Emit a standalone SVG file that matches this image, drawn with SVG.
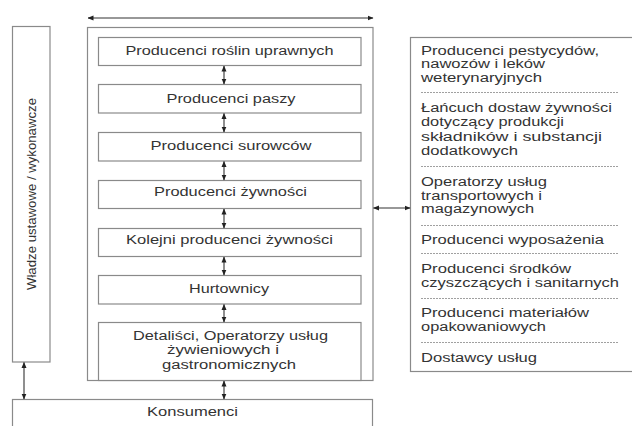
<svg xmlns="http://www.w3.org/2000/svg" width="632" height="426" viewBox="0 0 632 426">
<style>
.box{fill:#fff;stroke:#8a8a8a;stroke-width:1.2}
.t{font-family:"Liberation Sans",Arial,sans-serif;font-size:12.5px;fill:#333}
.c{text-anchor:middle}
.ln{stroke:#333;stroke-width:1.1;fill:none}
.dash{stroke:#888;stroke-width:0.8;stroke-dasharray:2 1}
</style>
<defs>
<marker id="ah" viewBox="0 0 6 6" refX="5.5" refY="3" markerWidth="6" markerHeight="6" markerUnits="userSpaceOnUse" orient="auto-start-reverse">
<path d="M0,0.5 L6,3 L0,5.5 Z" fill="#222"/>
</marker>
</defs>
<rect width="632" height="426" fill="#fff"/>

<g id="frame"><rect class="box" x="87.5" y="27.5" width="285.5" height="353"/></g>

<g id="wladze">
<rect class="box" x="12.5" y="26.5" width="37.5" height="335.5"/>
<text class="t c" transform="translate(36,194) rotate(-90)" x="0" y="0" textLength="192" lengthAdjust="spacingAndGlyphs">Władze ustawowe / wykonawcze</text>
</g>

<g id="n1"><rect class="box" x="98.5" y="37.5" width="262.5" height="28"/><text class="t c" x="229.5" y="54.5" textLength="208" lengthAdjust="spacingAndGlyphs">Producenci roślin uprawnych</text></g>
<g id="n2"><rect class="box" x="98.5" y="84.5" width="262.5" height="28.5"/><text class="t c" x="231" y="103" textLength="129" lengthAdjust="spacingAndGlyphs">Producenci paszy</text></g>
<g id="n3"><rect class="box" x="98.5" y="132.5" width="262.5" height="28.5"/><text class="t c" x="231" y="149.5" textLength="161" lengthAdjust="spacingAndGlyphs">Producenci surowców</text></g>
<g id="n4"><rect class="box" x="98.5" y="180.5" width="262.5" height="28"/><text class="t c" x="230.5" y="196" textLength="153" lengthAdjust="spacingAndGlyphs">Producenci żywności</text></g>
<g id="n5"><rect class="box" x="98.5" y="228.5" width="262.5" height="28"/><text class="t c" x="229.5" y="243.5" textLength="207" lengthAdjust="spacingAndGlyphs">Kolejni producenci żywności</text></g>
<g id="n6"><rect class="box" x="98.5" y="275.5" width="262.5" height="28.5"/><text class="t c" x="229" y="292.5" textLength="80" lengthAdjust="spacingAndGlyphs">Hurtownicy</text></g>
<g id="n7"><rect class="box" x="98.5" y="322.5" width="262.5" height="58"/>
<text class="t c" x="230.5" y="339.5" textLength="195" lengthAdjust="spacingAndGlyphs">Detaliści, Operatorzy usług</text>
<text class="t c" x="223" y="354" textLength="112" lengthAdjust="spacingAndGlyphs">żywieniowych i</text>
<text class="t c" x="229" y="368.5" textLength="134" lengthAdjust="spacingAndGlyphs">gastronomicznych</text>
</g>

<g id="konsumenci"><rect class="box" x="12.5" y="399.5" width="360" height="40"/><text class="t c" x="192.5" y="416" textLength="91" lengthAdjust="spacingAndGlyphs">Konsumenci</text></g>

<g id="inne">
<rect class="box" x="410.5" y="37.5" width="224" height="334"/>
<text class="t" x="421" y="54.5" textLength="178" lengthAdjust="spacingAndGlyphs">Producenci pestycydów,</text>
<text class="t" x="421" y="68" textLength="124" lengthAdjust="spacingAndGlyphs">nawozów i leków</text>
<text class="t" x="421" y="82" textLength="121" lengthAdjust="spacingAndGlyphs">weterynaryjnych</text>
<line class="dash" x1="421" y1="92.5" x2="619" y2="92.5"/>
<text class="t" x="421" y="111.5" textLength="191" lengthAdjust="spacingAndGlyphs">Łańcuch dostaw żywności</text>
<text class="t" x="421" y="126" textLength="143" lengthAdjust="spacingAndGlyphs">dotyczący produkcji</text>
<text class="t" x="421" y="140.5" textLength="181" lengthAdjust="spacingAndGlyphs">składników i substancji</text>
<text class="t" x="421" y="155" textLength="97" lengthAdjust="spacingAndGlyphs">dodatkowych</text>
<line class="dash" x1="421" y1="166.5" x2="619" y2="166.5"/>
<text class="t" x="421" y="186" textLength="126" lengthAdjust="spacingAndGlyphs">Operatorzy usług</text>
<text class="t" x="421" y="199.5" textLength="121" lengthAdjust="spacingAndGlyphs">transportowych i</text>
<text class="t" x="421" y="213" textLength="113" lengthAdjust="spacingAndGlyphs">magazynowych</text>
<line class="dash" x1="421" y1="225.5" x2="619" y2="225.5"/>
<text class="t" x="421" y="243.5" textLength="183" lengthAdjust="spacingAndGlyphs">Producenci wyposażenia</text>
<line class="dash" x1="421" y1="253.5" x2="619" y2="253.5"/>
<text class="t" x="421" y="272.5" textLength="150" lengthAdjust="spacingAndGlyphs">Producenci środków</text>
<text class="t" x="421" y="287" textLength="198" lengthAdjust="spacingAndGlyphs">czyszczących i sanitarnych</text>
<line class="dash" x1="421" y1="298.5" x2="619" y2="298.5"/>
<text class="t" x="421" y="316.5" textLength="168" lengthAdjust="spacingAndGlyphs">Producenci materiałów</text>
<text class="t" x="421" y="331" textLength="125" lengthAdjust="spacingAndGlyphs">opakowaniowych</text>
<line class="dash" x1="421" y1="342.5" x2="619" y2="342.5"/>
<text class="t" x="421" y="361.5" textLength="116" lengthAdjust="spacingAndGlyphs">Dostawcy usług</text>
</g>

<g id="connectors">
<line class="ln" x1="88" y1="18" x2="373" y2="18" marker-start="url(#ah)" marker-end="url(#ah)"/>
<line class="ln" x1="224" y1="66" x2="224" y2="84" marker-start="url(#ah)" marker-end="url(#ah)"/>
<line class="ln" x1="224" y1="113.5" x2="224" y2="132" marker-start="url(#ah)" marker-end="url(#ah)"/>
<line class="ln" x1="224" y1="161.5" x2="224" y2="180" marker-start="url(#ah)" marker-end="url(#ah)"/>
<line class="ln" x1="224" y1="209" x2="224" y2="228" marker-start="url(#ah)" marker-end="url(#ah)"/>
<line class="ln" x1="224" y1="257" x2="224" y2="275" marker-start="url(#ah)" marker-end="url(#ah)"/>
<line class="ln" x1="224" y1="304.5" x2="224" y2="322" marker-start="url(#ah)" marker-end="url(#ah)"/>
<line class="ln" x1="224" y1="381" x2="224" y2="399" marker-start="url(#ah)" marker-end="url(#ah)"/>
<line class="ln" x1="24" y1="362.5" x2="24" y2="399" marker-start="url(#ah)" marker-end="url(#ah)"/>
<line class="ln" x1="373.5" y1="208" x2="410" y2="208" marker-start="url(#ah)" marker-end="url(#ah)"/>
</g>
</svg>
